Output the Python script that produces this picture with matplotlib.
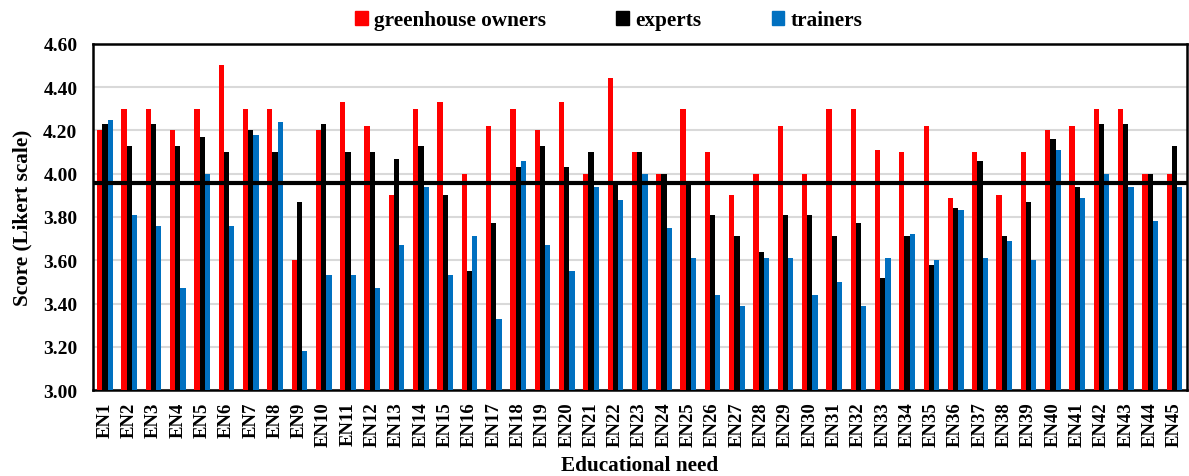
import numpy as np
import matplotlib.pyplot as plt
from matplotlib.patches import Patch
from matplotlib.ticker import FormatStrFormatter

plt.rcParams['font.family'] = ['Liberation Serif', 'DejaVu Serif']
plt.rcParams['font.weight'] = 'bold'

needs = ['EN%d' % i for i in range(1, 46)]

# mean scores per group
owners = [4.20, 4.30, 4.30, 4.20, 4.30, 4.50, 4.30, 4.30, 3.60, 4.20,
          4.33, 4.22, 3.90, 4.30, 4.33, 4.00, 4.22, 4.30, 4.20, 4.33,
          4.00, 4.44, 4.10, 4.00, 4.30, 4.10, 3.90, 4.00, 4.22, 4.00,
          4.30, 4.30, 4.11, 4.10, 4.22, 3.89, 4.10, 3.90, 4.10, 4.20,
          4.22, 4.30, 4.30, 4.00, 4.00]
experts = [4.23, 4.13, 4.23, 4.13, 4.17, 4.10, 4.20, 4.10, 3.87, 4.23,
           4.10, 4.10, 4.07, 4.13, 3.90, 3.55, 3.77, 4.03, 4.13, 4.03,
           4.10, 3.96, 4.10, 4.00, 3.96, 3.81, 3.71, 3.64, 3.81, 3.81,
           3.71, 3.77, 3.52, 3.71, 3.58, 3.84, 4.06, 3.71, 3.87, 4.16,
           3.94, 4.23, 4.23, 4.00, 4.13]
trainers = [4.25, 3.81, 3.76, 3.47, 4.00, 3.76, 4.18, 4.24, 3.18, 3.53,
            3.53, 3.47, 3.67, 3.94, 3.53, 3.71, 3.33, 4.06, 3.67, 3.55,
            3.94, 3.88, 4.00, 3.75, 3.61, 3.44, 3.39, 3.61, 3.61, 3.44,
            3.50, 3.39, 3.61, 3.72, 3.60, 3.83, 3.61, 3.69, 3.60, 4.11,
            3.89, 4.00, 3.94, 3.78, 3.94]
overall_mean = 3.958

x = np.arange(len(needs))
w = 0.215

fig = plt.figure(figsize=(11.89, 4.77), dpi=100)
ax = fig.add_axes([0.078, 0.180, 0.92, 0.726])

ax.bar(x - w, owners, w, color='#FF0000', zorder=3)
ax.bar(x, experts, w, color='#000000', zorder=3)
ax.bar(x + w, trainers, w, color='#0070C0', zorder=3)
ax.axhline(overall_mean, color='black', lw=3, zorder=4)

ax.set_ylim(3.0, 4.6)
ax.set_xlim(-0.5, len(needs) - 0.5)
ax.set_yticks(np.arange(3.0, 4.61, 0.2))
ax.yaxis.set_major_formatter(FormatStrFormatter('%.2f'))
ax.yaxis.grid(True, color='#D9D9D9', lw=1.5, zorder=0)
ax.set_xticks(x)
ax.set_xticklabels(needs, rotation=90, fontsize=13.5, fontweight='bold')
ax.tick_params(axis='y', labelsize=14, length=0, pad=11)
ax.tick_params(axis='x', length=0, pad=8)
for s in ax.spines.values():
    s.set_linewidth(1.8)
    s.set_color('black')

ax.set_ylabel('Score (Likert scale)', fontsize=15.3, fontweight='bold', labelpad=8)
ax.set_xlabel('Educational need', fontsize=15.3, fontweight='bold', labelpad=6.5)

handles = [Patch(color='#FF0000'), Patch(color='#000000'), Patch(color='#0070C0')]
fig.legend(handles, ['greenhouse owners', 'experts', 'trainers'],
           loc='center', bbox_to_anchor=(0.512, 0.955), ncol=3, frameon=False,
           fontsize=15.3, handlelength=0.6, handleheight=0.6, handletextpad=0.3,
           columnspacing=3.3)

fig.savefig('out.png', dpi=100)
